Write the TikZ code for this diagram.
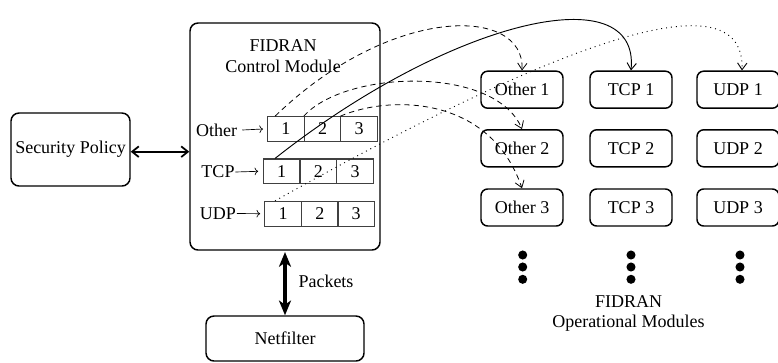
\documentclass[tikz,border=0pt]{standalone}
\usepackage{fontspec}
\setmainfont{Liberation Serif}
\usetikzlibrary{arrows.meta}
\begin{document}
\begin{tikzpicture}[x=0.75pt,y=-0.75pt,
  every node/.style={font=\fontsize{13.5}{16}\selectfont},
  modbox/.style={draw,rounded corners=5pt,line width=1.1pt,minimum width=61.5pt,minimum height=27.75pt,inner sep=0pt},
  bigbox/.style={draw,rounded corners=6pt,line width=1.1pt,inner sep=0pt},
  cell/.style={draw=black!75,line width=0.8pt,minimum width=27.4pt,minimum height=18.5pt,inner sep=0pt},
  rowlab/.style={inner sep=0pt},
  tip/.style={-{Straight Barb[length=5pt,width=7pt]}},
  dsh/.style={dash pattern=on 4pt off 3pt,line width=0.6pt},
  dtt/.style={dash pattern=on 0.7pt off 3pt,line width=0.7pt},
  dot/.style={circle,fill,inner sep=0pt,minimum size=6.8pt}]
\useasboundingbox (0,0) rectangle (778,362);

% left and bottom boxes
\node[bigbox,minimum width=89.25pt,minimum height=54.75pt] (sp) at (70.5,149.5) {Security Policy};
\node[bigbox,minimum width=142.5pt,minimum height=170.25pt] (cm) at (285,136.5) {};
\node[bigbox,minimum width=118.5pt,minimum height=33.75pt] (nf) at (285,338.5) {Netfilter};
\node[align=center] (cmt) at (283,56) {FIDRAN\\[0pt]Control Module};

% cells
\node[cell] (o1) at (285.8,129) {1};
\node[cell] (o2) at (322.6,129) {2};
\node[cell] (o3) at (359.2,129) {3};
\node[cell] (t1) at (281.7,171.3) {1};
\node[cell] (t2) at (318.4,171.3) {2};
\node[cell] (t3) at (355,171.3) {3};
\node[cell] (u1) at (283,213.7) {1};
\node[cell] (u2) at (319.8,213.7) {2};
\node[cell] (u3) at (356.2,213.7) {3};

% row labels
\node[rowlab] (lo) at (216.5,130) {Other};
\node[rowlab] (lt) at (218,172) {TCP};
\node[rowlab] (lu) at (218,213.5) {UDP};
\draw[-To,line width=0.5pt] ([xshift=3.75pt]lo.east) -- ([xshift=-3pt]o1.west);
\draw[-To,line width=0.5pt] ([xshift=0.5pt]lt.east) -- ([xshift=-3.5pt]t1.west);
\draw[-To,line width=0.5pt] ([xshift=0.5pt]lu.east) -- ([xshift=-3pt]u1.west);

% operational modules
\node[modbox] (m11) at (522,89.7) {Other 1};
\node[modbox] (m12) at (631,89.7) {TCP 1};
\node[modbox] (m13) at (738,89.7) {UDP 1};
\node[modbox] (m21) at (522,148.3) {Other 2};
\node[modbox] (m22) at (631,148.3) {TCP 2};
\node[modbox] (m23) at (738,148.3) {UDP 2};
\node[modbox] (m31) at (522,207.5) {Other 3};
\node[modbox] (m32) at (631,207.5) {TCP 3};
\node[modbox] (m33) at (738,207.5) {UDP 3};

\foreach \c/\xx in {a/522.7,b/631,c/740}{
  \node[dot] (\c1) at (\xx,255) {};
  \node[dot] (\c2) at (\xx,267) {};
  \node[dot] (\c3) at (\xx,279.3) {};
}
\node[align=center] (om) at (628.5,313) {FIDRAN\\[-1pt]Operational Modules};
\node (pk) at (326,281) {Packets};

% thick arrows
\draw[{Straight Barb[length=5pt,width=8pt]}-{Straight Barb[length=5pt,width=8pt]},line width=1.3pt] (sp.east |- 0,151.7) -- (cm.west |- 0,151.7);
\draw[{Stealth[length=11pt,width=9pt,inset=3pt]}-{Stealth[length=11pt,width=9pt,inset=3pt]},line width=3pt] ([yshift=-1pt]cm.south) -- (nf.north);

% curves
\draw[dsh,tip] ([xshift=-8pt]o1.north) .. controls (390,5) and (525,5) .. (m11.north);
\draw[dsh,tip] (o2.north west) .. controls (345,70) and (495,65) .. (m21.north);
\draw[dsh,tip] (o3.north west) .. controls (390,95) and (490,95) .. (m31.north);
\draw[line width=0.7pt,tip] ([xshift=-5pt]t1.north) .. controls (450,20) and (640,-25) .. (m12.north);
\draw[dtt,tip] ([xshift=-6pt]u1.north) .. controls (580,30) and (745,-20) .. ([xshift=3pt]m13.north);
\end{tikzpicture}
\end{document}
